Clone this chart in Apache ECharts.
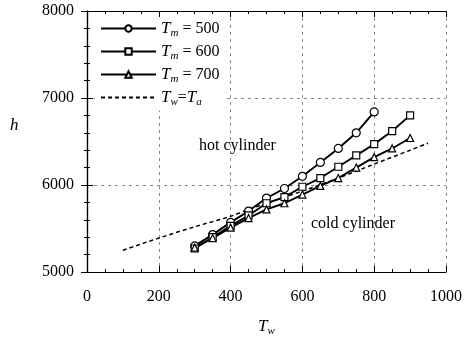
<!DOCTYPE html>
<html>
<head>
<meta charset="utf-8">
<script src="https://cdn.jsdelivr.net/npm/echarts@6/dist/echarts.min.js"></script>
<style>
  html, body { margin: 0; padding: 0; background: #fff; }
  #chart { width: 466px; height: 345px; }
</style>
</head>
<body>
<div id="chart"></div>
<script>
// Wall temperature T_w and heat transfer coefficient h for three mean temperatures
const tw500 = [300, 350, 400, 450, 500, 550, 600, 650, 700, 750, 800];
const h500  = [5300, 5430, 5570, 5700, 5850, 5960, 6100, 6260, 6420, 6600, 6840];

const tw600 = [300, 350, 400, 450, 500, 550, 600, 650, 700, 750, 800, 850, 900];
const h600  = [5270, 5400, 5530, 5650, 5790, 5860, 5980, 6080, 6210, 6340, 6470, 6620, 6800];

const tw700 = [300, 350, 400, 450, 500, 550, 600, 650, 700, 750, 800, 850, 900];
const h700  = [5280, 5390, 5510, 5620, 5720, 5790, 5890, 5990, 6080, 6200, 6320, 6420, 6540];

// Reference curve where wall temperature equals ambient temperature
const twRef = [100, 200, 300, 400, 450, 500, 600, 700, 800, 900, 950];
const hRef  = [5250, 5390, 5520, 5640, 5720, 5790, 5930, 6080, 6240, 6400, 6480];

const xTicks = [0, 200, 400, 600, 800, 1000];
const yTicks = [5000, 6000, 7000, 8000];

const seriesNames = ['Tm500', 'Tm600', 'Tm700', 'TwTa'];
const legendText = {
  Tm500: '{it|T}{sub|m}{n| = 500}',
  Tm600: '{it|T}{sub|m}{n| = 600}',
  Tm700: '{it|T}{sub|m}{n| = 700}',
  TwTa:  '{it|T}{sub|w}{n|=}{it|T}{sub|a}'
};

const FONT = '"Liberation Serif", "DejaVu Serif", serif';

const pairs = (xs, ys) => xs.map((x, i) => [x, ys[i]]);
const plain = v => String(v);

const chart = echarts.init(document.getElementById('chart'), null, { renderer: 'canvas' });

const richStyles = {
  it:  { fontFamily: FONT, fontStyle: 'italic', fontSize: 17, color: '#000' },
  sub: { fontFamily: FONT, fontStyle: 'italic', fontSize: 11, color: '#000', padding: [9, 0, 0, 0] },
  n:   { fontFamily: FONT, fontSize: 16, color: '#000' }
};

const lineSeries = (name, data, symbol, size) => ({
  name: name,
  type: 'line',
  data: data,
  symbol: symbol,
  symbolSize: size,
  showAllSymbol: true,
  lineStyle: { color: '#000', width: 1.9 },
  itemStyle: { color: '#fff', borderColor: '#000', borderWidth: 1.2 },
  z: 5,
  animation: false
});

const axisLine = { show: true, lineStyle: { color: '#000', width: 1.2 } };
const axisTick = { show: true, inside: true, length: 6, lineStyle: { color: '#000', width: 1 } };
const minor = n => ({ show: true, splitNumber: n, length: 3, lineStyle: { color: '#000', width: 1 } });

chart.setOption({
  backgroundColor: '#fff',
  animation: false,
  grid: { left: 87, right: 20, top: 11, bottom: 73, containLabel: false },
  xAxis: [
    {
      type: 'value', min: xTicks[0], max: xTicks[xTicks.length - 1], interval: 200,
      position: 'bottom',
      axisLine: axisLine, axisTick: axisTick, minorTick: minor(4),
      axisLabel: { fontFamily: FONT, fontSize: 16, color: '#000', margin: 17, formatter: plain },
      splitLine: { show: true, lineStyle: { color: '#8a8a8a', width: 1, type: [3, 4] } }
    },
    {
      type: 'value', min: xTicks[0], max: xTicks[xTicks.length - 1], interval: 200,
      position: 'top',
      axisLine: axisLine, axisTick: axisTick, minorTick: minor(4),
      axisLabel: { show: false }, splitLine: { show: false }
    }
  ],
  yAxis: [
    {
      type: 'value', min: yTicks[0], max: yTicks[yTicks.length - 1], interval: 1000,
      position: 'left',
      axisLine: axisLine, axisTick: axisTick, minorTick: minor(5),
      axisLabel: { fontFamily: FONT, fontSize: 16, color: '#000', margin: 13, formatter: plain },
      splitLine: { show: true, lineStyle: { color: '#8a8a8a', width: 1, type: [3, 4] } }
    },
    {
      type: 'value', min: yTicks[0], max: yTicks[yTicks.length - 1], interval: 1000,
      position: 'right',
      axisLine: axisLine, axisTick: axisTick, minorTick: minor(5),
      axisLabel: { show: false }, splitLine: { show: false }
    }
  ],
  legend: {
    data: seriesNames,
    orient: 'vertical',
    left: 95,
    top: 17,
    padding: [3, 6, 3, 5],
    itemGap: 4.5,
    itemWidth: 55,
    itemHeight: 8,
    backgroundColor: '#fff',
    formatter: name => legendText[name],
    textStyle: { rich: richStyles, color: '#000' }
  },
  series: [
    lineSeries('Tm500', pairs(tw500, h500), 'circle', 8),
    lineSeries('Tm600', pairs(tw600, h600), 'rect', 7),
    lineSeries('Tm700', pairs(tw700, h700), 'triangle', 7),
    {
      name: 'TwTa',
      type: 'line',
      data: pairs(twRef, hRef),
      smooth: 0.3,
      symbol: 'none',
      lineStyle: { color: '#000', width: 1.5, type: [4, 3] },
      itemStyle: { color: '#000', opacity: 0 },
      z: 4,
      animation: false
    }
  ],
  graphic: [
    { type: 'text', left: 10, top: 117,
      style: { text: 'h', font: 'italic 17px ' + FONT, fill: '#000' } },
    { type: 'text', left: 258, top: 318,
      style: { text: '{it|T}{sub|w}', rich: richStyles } },
    { type: 'text', left: 199, top: 138,
      style: { text: 'hot cylinder', font: '16px ' + FONT, fill: '#000' } },
    { type: 'text', left: 311, top: 216,
      style: { text: 'cold cylinder', font: '16px ' + FONT, fill: '#000' } }
  ]
});
</script>
</body>
</html>
